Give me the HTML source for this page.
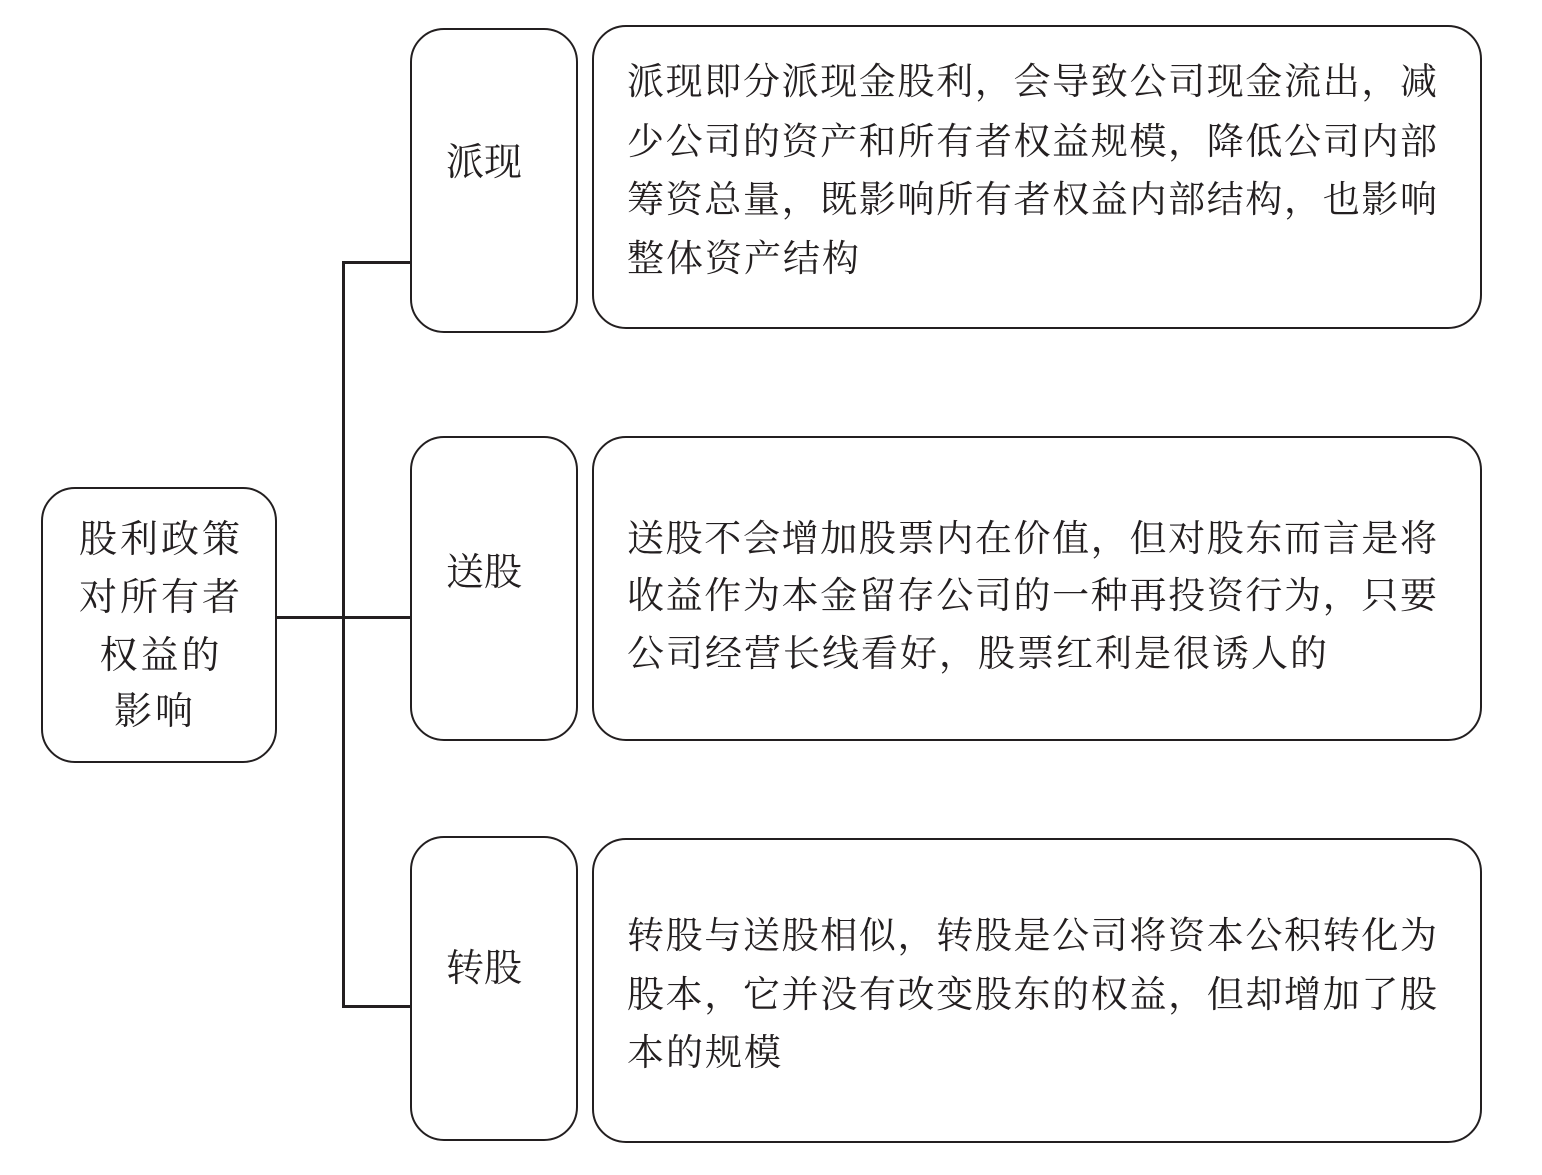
<!DOCTYPE html>
<html><head><meta charset="utf-8"><style>
html,body{margin:0;padding:0;background:#fff;}
body{width:1542px;height:1175px;position:relative;overflow:hidden;font-family:"Liberation Serif","Noto Serif CJK SC",serif;color:#231f20;}
.b{position:absolute;border:2.5px solid #231f20;border-radius:34px;box-sizing:border-box;}
.j{position:absolute;left:627px;width:810px;font-size:37px;line-height:37px;text-align:justify;text-align-last:justify;white-space:nowrap;}
.l{text-align-last:left;letter-spacing:2px;}
.c{position:absolute;text-align:center;font-size:38px;line-height:38px;}
.lc{letter-spacing:3px;}
.ln{position:absolute;background:#231f20;}
</style></head><body>
<div class="b" style="left:41px;top:487px;width:236px;height:276px;"></div>
<div class="c lc" style="left:43px;width:236px;top:521px;">股利政策</div>
<div class="c lc" style="left:43px;width:236px;top:579px;">对所有者</div>
<div class="c lc" style="left:43px;width:236px;top:637px;">权益的</div>
<div class="c lc" style="left:37px;width:236px;top:693px;">影响</div>

<div class="ln" style="left:276px;top:616px;width:68px;height:2.5px;"></div>
<div class="ln" style="left:342px;top:261px;width:2.5px;height:746px;"></div>
<div class="ln" style="left:342px;top:261px;width:69px;height:2.5px;"></div>
<div class="ln" style="left:342px;top:616px;width:69px;height:2.5px;"></div>
<div class="ln" style="left:342px;top:1005px;width:69px;height:2.5px;"></div>

<div class="b" style="left:410px;top:28px;width:168px;height:305px;"></div>
<div class="c" style="left:410px;width:148px;top:144px;">派现</div>
<div class="b" style="left:410px;top:436px;width:168px;height:305px;"></div>
<div class="c" style="left:410px;width:148px;top:554px;">送股</div>
<div class="b" style="left:410px;top:836px;width:168px;height:305px;"></div>
<div class="c" style="left:410px;width:148px;top:950px;">转股</div>

<div class="b" style="left:592px;top:25px;width:890px;height:304px;"></div>
<div class="j" style="top:64px;">派现即分派现金股利，会导致公司现金流出，减</div>
<div class="j" style="top:124px;">少公司的资产和所有者权益规模，降低公司内部</div>
<div class="j" style="top:182px;">筹资总量，既影响所有者权益内部结构，也影响</div>
<div class="j l" style="top:241px;">整体资产结构</div>

<div class="b" style="left:592px;top:436px;width:890px;height:305px;"></div>
<div class="j" style="top:521px;">送股不会增加股票内在价值，但对股东而言是将</div>
<div class="j" style="top:578px;">收益作为本金留存公司的一种再投资行为，只要</div>
<div class="j l" style="top:636px;">公司经营长线看好，股票红利是很诱人的</div>

<div class="b" style="left:592px;top:838px;width:890px;height:305px;"></div>
<div class="j" style="top:918px;">转股与送股相似，转股是公司将资本公积转化为</div>
<div class="j" style="top:977px;">股本，它并没有改变股东的权益，但却增加了股</div>
<div class="j l" style="top:1035px;">本的规模</div>
</body></html>
